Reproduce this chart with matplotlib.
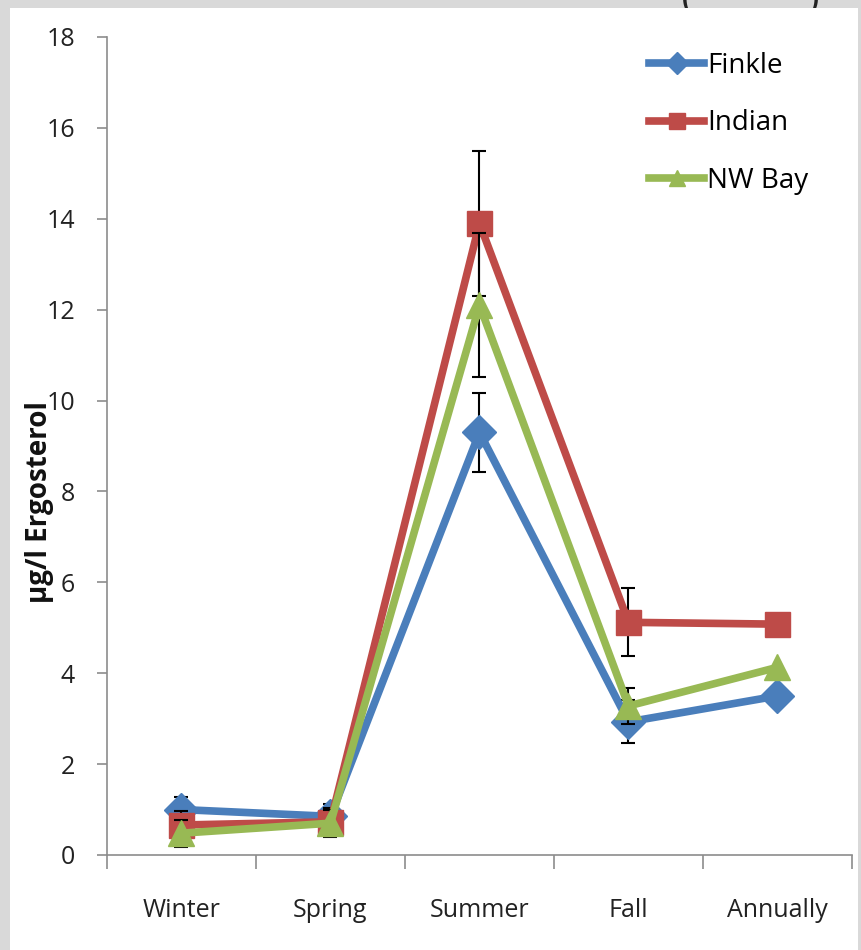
import matplotlib.pyplot as plt
from matplotlib.patches import Rectangle

seasons = ["Winter", "Spring", "Summer", "Fall", "Annually"]

finkle = [1.0, 0.85, 9.3, 2.93, 3.5]
finkle_err = [0.28, 0.27, 0.87, 0.47, None]

indian = [0.66, 0.73, 13.9, 5.12, 5.08]
indian_err = [0.3, 0.3, 1.6, 0.75, None]

nwbay = [0.48, 0.7, 12.1, 3.28, 4.13]
nwbay_err = [0.3, 0.3, 1.58, 0.4, None]

series = [
    ("Finkle", finkle, finkle_err, "#4A7EBB", "D", 17),
    ("Indian", indian, indian_err, "#BE4B48", "s", 18),
    ("NW Bay", nwbay, nwbay_err, "#98B954", "^", 19),
]

font = "Open Sans"


def main():
    fig = plt.figure(figsize=(8.62, 9.5), dpi=100)
    fig.patch.set_facecolor("#d9d9d9")

    # white card behind the chart, the heading above it is mostly hidden
    fig.patches.append(Rectangle((10 / 862, 0), 848 / 862, 942 / 950,
                                 transform=fig.transFigure, facecolor="white",
                                 edgecolor="none", zorder=-1))
    fig.text(680 / 862, 1.0, "(", fontsize=26, ha="left", va="center",
             color="#222222", zorder=-2)
    fig.text(806 / 862, 1.0, ")", fontsize=26, ha="left", va="center",
             color="#222222", zorder=-2)

    ax = fig.add_axes([107 / 862, 95 / 950, 745 / 862, 818 / 950])
    ax.set_facecolor("none")
    ax.set_zorder(2)

    x = list(range(len(seasons)))
    for z, (name, vals, errs, color, marker, ms) in enumerate(series):
        ex = [i for i, e in enumerate(errs) if e is not None]
        ax.errorbar(ex, [vals[i] for i in ex], yerr=[errs[i] for i in ex],
                    fmt="none", ecolor="black", elinewidth=1.5, capsize=5,
                    capthick=1.5, zorder=2 + 2 * z)
        ax.plot(x, vals, color=color, lw=5.5, marker=marker, ms=ms,
                label=name, zorder=3 + 2 * z, solid_joinstyle="round")

    ax.set_xlim(-0.5, len(seasons) - 0.5)
    ax.set_ylim(0, 18)
    ax.set_yticks(range(0, 19, 2))
    ax.set_xticks(x)
    ax.set_xticklabels(seasons)
    ax.set_xticks([i - 0.5 for i in range(len(seasons) + 1)], minor=True)
    ax.tick_params(axis="x", which="major", length=0, pad=31,
                   labelsize=18, labelcolor="#222222")
    ax.tick_params(axis="x", which="minor", length=10, width=1.2,
                   color="#8c8c8c", direction="out")
    ax.tick_params(axis="y", length=7, width=1.2, color="#8c8c8c",
                   labelsize=18, labelcolor="#222222", pad=16)
    for lab in ax.get_xticklabels() + ax.get_yticklabels():
        lab.set_fontfamily(font)

    for side in ["top", "right"]:
        ax.spines[side].set_visible(False)
    for side in ["left", "bottom"]:
        ax.spines[side].set_color("#8c8c8c")
        ax.spines[side].set_linewidth(1.2)

    fig.text(40 / 862, 448 / 950, "µg/l Ergosterol", rotation=90,
             ha="center", va="center", fontsize=20, fontweight="bold",
             family=font, color="#111111", zorder=3)

    leg = ax.legend(loc="upper right", bbox_to_anchor=(0.975, 1.012),
                    frameon=False, handlelength=2.0, handletextpad=0.1,
                    labelspacing=1.05, prop={"family": font, "size": 20})
    for h in leg.legend_handles:
        h.set_markersize(11)

    plt.savefig("out.png", dpi=100, facecolor=fig.get_facecolor())


if __name__ == "__main__":
    main()
